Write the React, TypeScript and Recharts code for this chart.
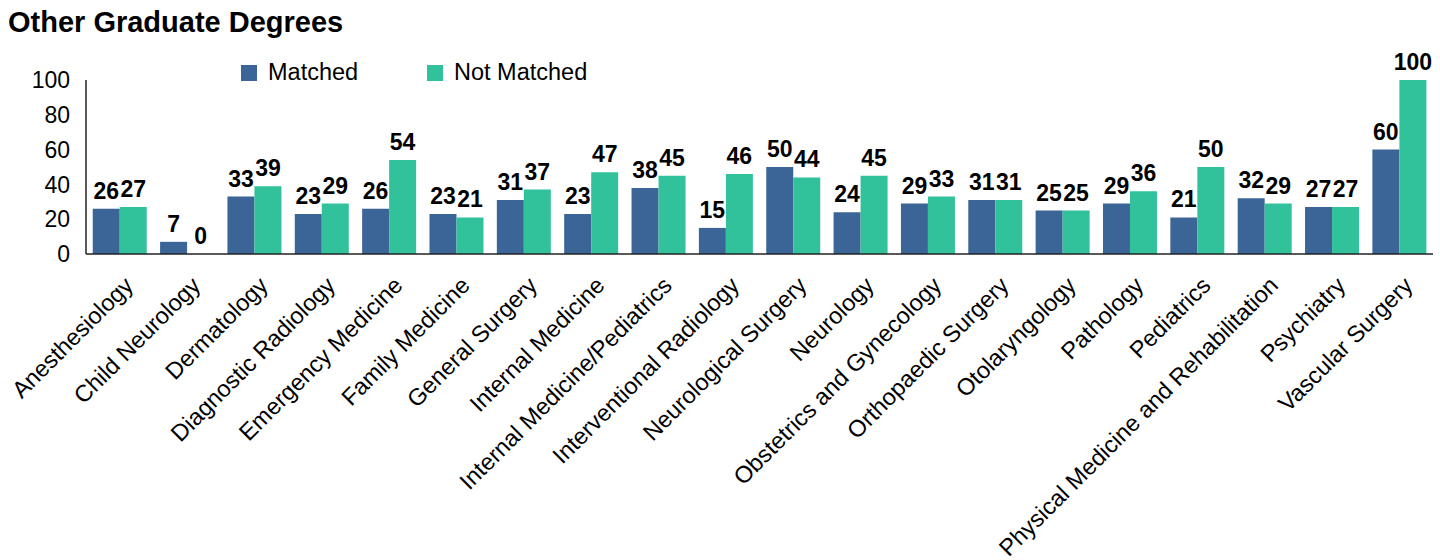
import { BarChart, Bar, XAxis, YAxis, LabelList } from 'recharts';

const specialties = [
  'Anesthesiology',
  'Child Neurology',
  'Dermatology',
  'Diagnostic Radiology',
  'Emergency Medicine',
  'Family Medicine',
  'General Surgery',
  'Internal Medicine',
  'Internal Medicine/Pediatrics',
  'Interventional Radiology',
  'Neurological Surgery',
  'Neurology',
  'Obstetrics and Gynecology',
  'Orthopaedic Surgery',
  'Otolaryngology',
  'Pathology',
  'Pediatrics',
  'Physical Medicine and Rehabilitation',
  'Psychiatry',
  'Vascular Surgery',
];

const matched = [26, 7, 33, 23, 26, 23, 31, 23, 38, 15, 50, 24, 29, 31, 25, 29, 21, 32, 27, 60];
const notMatched = [27, 0, 39, 29, 54, 21, 37, 47, 45, 46, 44, 45, 33, 31, 25, 36, 50, 29, 27, 100];

const yTicks = [0, 20, 40, 60, 80, 100];

const data = specialties.map((name, i) => ({
  name,
  matched: matched[i],
  notMatched: notMatched[i],
}));

const FONT = 'Arial, "Liberation Sans", sans-serif';
const BLUE = '#3B6597';
const GREEN = '#32C29B';

const CategoryTick = ({ x, y, payload }: any) => (
  <g transform={`translate(${x + 9},${y + 19})`}>
    <text
      x={0}
      y={0}
      dy="0.35em"
      textAnchor="end"
      transform="rotate(-45)"
      fontSize={23.5}
      fontFamily={FONT}
      fill="#000"
    >
      {payload.value}
    </text>
  </g>
);

const valueText = (cx: number, y: number, value: number, key?: string) => (
  <text
    key={key}
    x={cx}
    y={y - 10}
    textAnchor="middle"
    fontSize={23}
    fontWeight="bold"
    fontFamily={FONT}
    fill="#000"
  >
    {value}
  </text>
);

// recharts drops zero-height bars (and their labels), so the "0" of the
// not-matched series is drawn next to the matched bar of the same category
const MatchedLabel = (props: any) => {
  const { x, y, width, height, value, index } = props;
  const w = Number(width);
  const base = Number(y) + Number(height);
  return (
    <g>
      {valueText(Number(x) + w / 2, Number(y), value)}
      {notMatched[index] === 0 && valueText(Number(x) + w * 1.5, base, 0)}
    </g>
  );
};

const NotMatchedLabel = (props: any) => {
  const { x, y, width, value } = props;
  return valueText(Number(x) + Number(width) / 2, Number(y), value);
};

const LegendBox = () => (
  <div
    style={{
      position: 'absolute',
      top: 59,
      left: 241,
      display: 'flex',
      alignItems: 'center',
      fontFamily: FONT,
      fontSize: 23.5,
      color: '#000',
    }}
  >
    <span style={{ width: 16, height: 16, background: BLUE, display: 'inline-block' }} />
    <span style={{ marginLeft: 11, width: 159 }}>Matched</span>
    <span style={{ width: 16, height: 16, background: GREEN, display: 'inline-block' }} />
    <span style={{ marginLeft: 11 }}>Not Matched</span>
  </div>
);

export default function App() {
  return (
    <div style={{ position: 'fixed', top: 0, left: 0, width: 1440, height: 560, background: '#fff' }}>
      <div
        style={{
          position: 'absolute',
          top: 6,
          left: 8,
          fontFamily: FONT,
          fontWeight: 'bold',
          fontSize: 29,
          color: '#000',
        }}
      >
        Other Graduate Degrees
      </div>
      <LegendBox />
      <BarChart
        width={1440}
        height={560}
        data={data}
        margin={{ top: 80, right: 7, left: 0, bottom: 0 }}
        barCategoryGap="10%"
        barGap={0}
      >
        <XAxis
          dataKey="name"
          interval={0}
          height={306}
          tickLine={false}
          axisLine={{ stroke: '#222', strokeWidth: 1.5 }}
          tick={<CategoryTick />}
        />
        <YAxis
          domain={[0, 100]}
          ticks={yTicks}
          width={86}
          tickLine={false}
          tickMargin={10}
          axisLine={{ stroke: '#222', strokeWidth: 1.5 }}
          tick={{ fontSize: 23, fontFamily: FONT, fill: '#000' }}
        />
        <Bar dataKey="matched" name="Matched" fill={BLUE} isAnimationActive={false}>
          <LabelList dataKey="matched" content={<MatchedLabel />} />
        </Bar>
        <Bar dataKey="notMatched" name="Not Matched" fill={GREEN} isAnimationActive={false}>
          <LabelList dataKey="notMatched" content={<NotMatchedLabel />} />
        </Bar>
      </BarChart>
    </div>
  );
}
